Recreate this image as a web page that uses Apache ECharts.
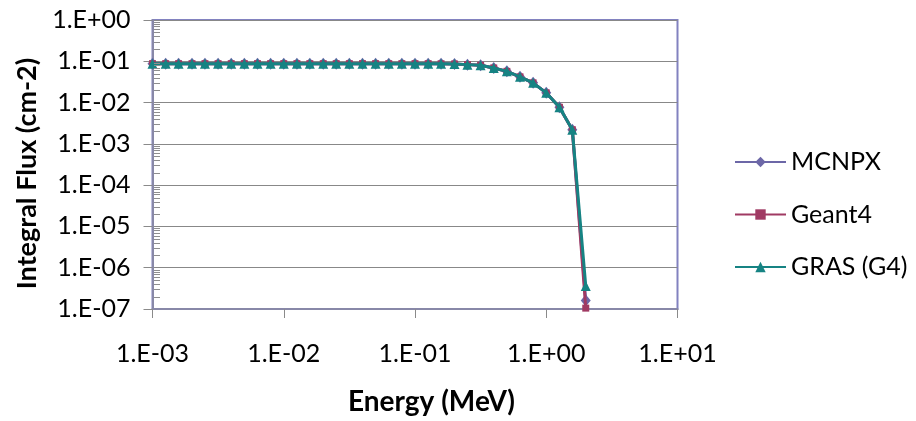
<!DOCTYPE html>
<html>
<head>
<meta charset="utf-8">
<script src="https://cdn.jsdelivr.net/npm/echarts@6/dist/echarts.min.js"></script>
<style>
  html, body { margin: 0; padding: 0; background: #ffffff; }
  #chart { width: 916px; height: 421px; }
</style>
</head>
<body>
<div id="chart"></div>
<script>
// Energy grid (MeV), ten points per decade
const energy = [
  0.001, 0.00126, 0.00158, 0.002, 0.00251, 0.00316, 0.00398, 0.00501, 0.00631, 0.00794,
  0.01, 0.0126, 0.0158, 0.02, 0.0251, 0.0316, 0.0398, 0.0501, 0.0631, 0.0794,
  0.1, 0.126, 0.158, 0.2, 0.251, 0.316, 0.398, 0.501, 0.631, 0.794,
  1.0, 1.26, 1.58, 2.0
];

// Integral flux (cm-2) above each energy
const fluxMCNPX = [
  0.0875, 0.0875, 0.0875, 0.0875, 0.0875, 0.0875, 0.0875, 0.0875, 0.0875, 0.0875,
  0.0875, 0.0875, 0.0875, 0.0875, 0.0875, 0.0875, 0.0875, 0.0875, 0.0875, 0.0875,
  0.0875, 0.0875, 0.087, 0.086, 0.083, 0.080, 0.069, 0.057, 0.042, 0.030,
  0.0172, 0.0077, 0.0022, 1.6e-7
];
const fluxGeant4 = [
  0.0875, 0.0875, 0.0875, 0.0875, 0.0875, 0.0875, 0.0875, 0.0875, 0.0875, 0.0875,
  0.0875, 0.0875, 0.0875, 0.0875, 0.0875, 0.0875, 0.0875, 0.0875, 0.0875, 0.0875,
  0.0875, 0.0875, 0.087, 0.086, 0.083, 0.080, 0.069, 0.057, 0.042, 0.030,
  0.0172, 0.0077, 0.0022, 1.05e-7
];
const fluxGRAS = [
  0.0875, 0.0875, 0.0875, 0.0875, 0.0875, 0.0875, 0.0875, 0.0875, 0.0875, 0.0875,
  0.0875, 0.0875, 0.0875, 0.0875, 0.0875, 0.0875, 0.0875, 0.0875, 0.0875, 0.0875,
  0.0875, 0.0875, 0.087, 0.086, 0.083, 0.080, 0.069, 0.057, 0.042, 0.030,
  0.0172, 0.0077, 0.0022, 3.6e-7
];

const seriesNames = ['MCNPX', 'Geant4', 'GRAS (G4)'];

// Tick labels per decade
const xTickLabels = ['1.E-03', '1.E-02', '1.E-01', '1.E+00', '1.E+01'];
const yTickLabels = ['1.E-07', '1.E-06', '1.E-05', '1.E-04', '1.E-03', '1.E-02', '1.E-01', '1.E+00'];

const X_MIN_EXP = -3, Y_MIN_EXP = -7;
const FONT = 'Lato, "Open Sans", sans-serif';

function pairs(xs, ys) { return xs.map((x, i) => [x, ys[i]]); }
function decadeLabel(labels, minExp) {
  return function (v) {
    const k = Math.round(Math.log10(v)) - minExp;
    return labels[k] !== undefined ? labels[k] : '';
  };
}

// Minor ticks at 2..9 within each decade of the flux axis
const minorTickValues = [];
for (let e = Y_MIN_EXP; e < 0; e++) {
  for (let m = 2; m <= 9; m++) minorTickValues.push(m * Math.pow(10, e));
}

const colors = ['#6C67A7', '#A03A63', '#168383'];

const chart = echarts.init(document.getElementById('chart'), null, { renderer: 'canvas' });

chart.setOption({
  animation: false,
  backgroundColor: '#ffffff',
  textStyle: { fontFamily: FONT },
  grid: {
    left: 152.5, right: 238.5, top: 20, bottom: 110,
    show: true, borderColor: '#8282C0', borderWidth: 2, backgroundColor: 'transparent'
  },
  legend: {
    orient: 'vertical',
    left: 734, top: 147, padding: 0,
    itemWidth: 51, itemHeight: 13, itemGap: 22.5,
    data: seriesNames,
    textStyle: { fontFamily: FONT, fontSize: 25, color: '#000', lineHeight: 30 }
  },
  xAxis: {
    type: 'log', logBase: 10,
    min: 0.001, max: 10, splitNumber: 4,
    name: 'Energy (MeV)', nameLocation: 'middle', nameGap: 79,
    nameTextStyle: { fontFamily: FONT, fontSize: 28, fontWeight: 'bold', color: '#000', padding: [0, 0, 0, 33] },
    axisLine: { show: true, lineStyle: { color: '#8888A8', width: 2 } },
    axisTick: { show: true, length: 9, lineStyle: { color: '#8A8A8A', width: 1 } },
    axisLabel: {
      margin: 32, fontFamily: FONT, fontSize: 25, color: '#000', lineHeight: 25,
      formatter: decadeLabel(xTickLabels, X_MIN_EXP)
    },
    splitLine: { show: false },
    minorTick: { show: false }
  },
  yAxis: {
    type: 'log', logBase: 10,
    min: 1e-7, max: 1, splitNumber: 7,
    name: 'Integral Flux (cm-2)', nameLocation: 'middle', nameGap: 110, nameRotate: 90,
    nameTextStyle: { fontFamily: FONT, fontSize: 27, fontWeight: 'bold', color: '#000', padding: [0, 18, 0, 0] },
    axisLine: { show: true, lineStyle: { color: '#8888A8', width: 2 } },
    axisTick: { show: true, length: 9, lineStyle: { color: '#8A8A8A', width: 1 } },
    axisLabel: {
      margin: 22, fontFamily: FONT, fontSize: 25, color: '#000',
      formatter: decadeLabel(yTickLabels, Y_MIN_EXP)
    },
    splitLine: { show: true, lineStyle: { color: '#888888', width: 1 } },
    minorTick: { show: false }
  },
  series: [
    {
      // short inward tick marks on the flux axis, one per minor value
      type: 'custom',
      name: 'minorTicks',
      silent: true,
      clip: false,
      z: 6,
      data: minorTickValues.map(v => [0.001, v]),
      renderItem: function (params, api) {
        const p = api.coord([api.value(0), api.value(1)]);
        return {
          type: 'rect',
          shape: { x: Math.round(p[0]) + 1, y: Math.round(p[1]), width: 6, height: 1 },
          style: { fill: '#8E8E8E' }
        };
      }
    },
    {
      name: seriesNames[0], type: 'line', z: 3,
      data: pairs(energy, fluxMCNPX),
      symbol: 'diamond', symbolSize: [10, 12], showAllSymbol: true,
      itemStyle: { color: colors[0] },
      lineStyle: { color: colors[0], width: 3 }
    },
    {
      name: seriesNames[1], type: 'line', z: 4,
      data: pairs(energy, fluxGeant4),
      symbol: 'rect', symbolSize: 7, showAllSymbol: true,
      itemStyle: { color: colors[1] },
      lineStyle: { color: colors[1], width: 3 }
    },
    {
      name: seriesNames[2], type: 'line', z: 5,
      data: pairs(energy, fluxGRAS),
      symbol: 'triangle', symbolSize: 10, showAllSymbol: true,
      itemStyle: { color: colors[2] },
      lineStyle: { color: colors[2], width: 3 }
    }
  ]
});
</script>
</body>
</html>
